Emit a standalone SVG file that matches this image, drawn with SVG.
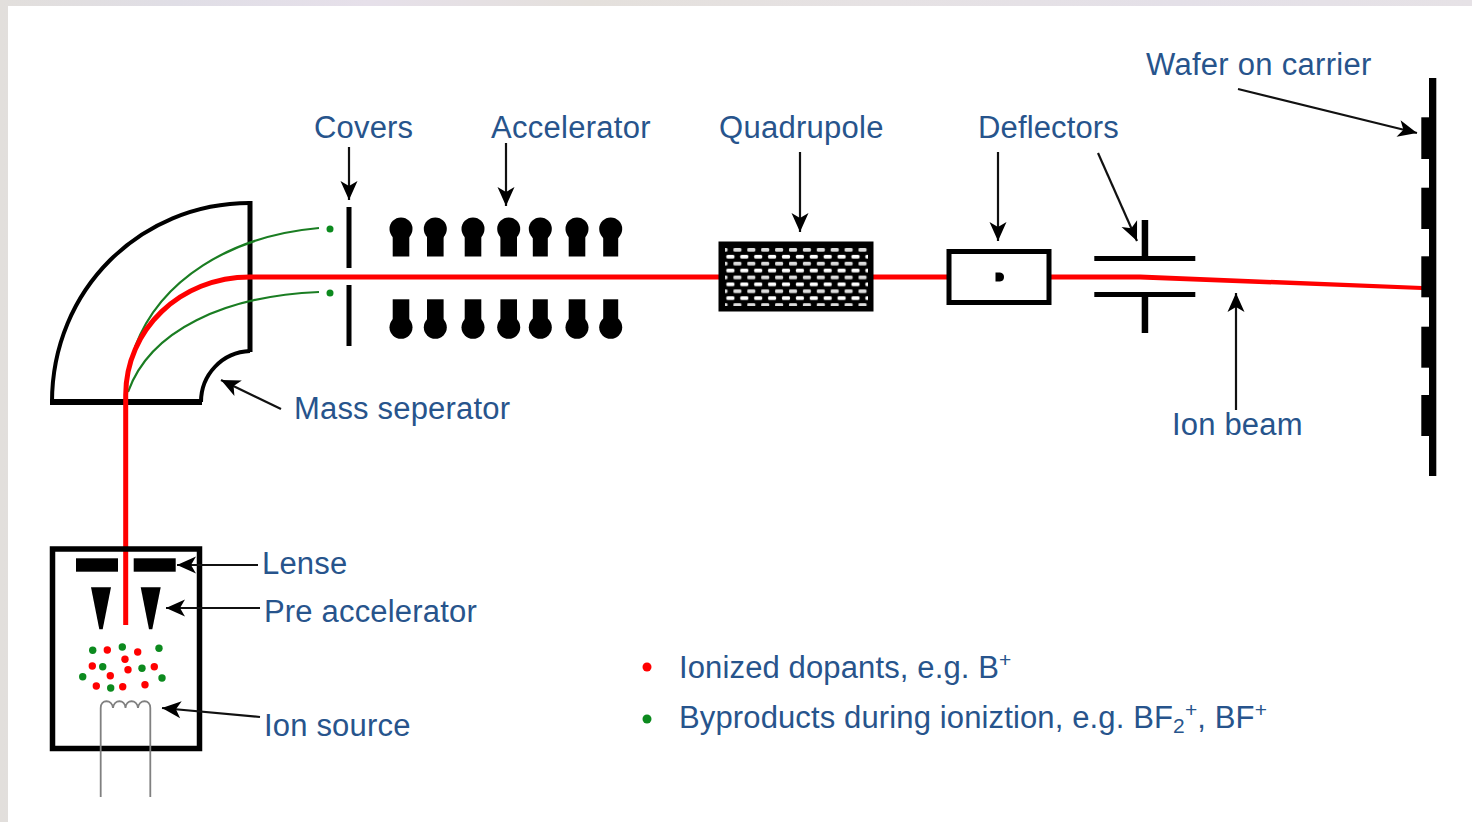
<svg xmlns="http://www.w3.org/2000/svg" width="1472" height="822" viewBox="0 0 1472 822">
<defs>
<linearGradient id="bg" x1="0" y1="0" x2="1" y2="0">
<stop offset="0" stop-color="#e2dfdc"/><stop offset="0.12" stop-color="#e0dee6"/><stop offset="0.25" stop-color="#e6e0ea"/><stop offset="0.4" stop-color="#e4e0dc"/><stop offset="0.6" stop-color="#e6e2e4"/><stop offset="0.8" stop-color="#e4e0e8"/><stop offset="1" stop-color="#e6e2e6"/>
</linearGradient>
<pattern id="holes" x="731.4" y="247" width="13.9" height="13.8" patternUnits="userSpaceOnUse">
<rect x="2" y="1" width="8" height="3.800" rx="1.300" fill="#dcdcdc"/>
<rect x="8.900" y="7.800" width="8" height="3.800" rx="1.300" fill="#fff"/>
<rect x="-5" y="7.800" width="8" height="3.800" rx="1.300" fill="#fff"/>
</pattern>
<marker id="arrow" markerUnits="userSpaceOnUse" markerWidth="22" markerHeight="22" refX="20" refY="11" orient="auto">
<path d="M20 11 L1 2.500 L6 11 L1 19.500 Z" fill="#000"/>
</marker>
<style>
text{font-family:"Liberation Sans",Arial,sans-serif;font-size:31px;letter-spacing:.18px;fill:#27548c}
.wide{letter-spacing:.28px}
.tight{letter-spacing:.13px}
.small{font-size:21px}
.conn{fill:none;stroke:#111;stroke-width:2.200;marker-end:url(#arrow)}
.red{fill:#ff0000}.green{fill:#0c8a1e}
.beam{fill:none;stroke:#ff0000;stroke-width:5}
.gbeam{fill:none;stroke:#1a7d22;stroke-width:2.200}
.blk{fill:#000}
.outline{fill:none;stroke:#000}
.wire{fill:none;stroke:#808080;stroke-width:1.800}
</style>
</defs>
<rect width="1472" height="822" fill="url(#bg)"/>
<rect x="8" y="6" width="1464" height="816" fill="#fff"/>

<g id="mass-separator">
<path class="outline" stroke-width="4" d="M52 402 C52 290 140 203 250 203"/>
<path class="outline" stroke-width="5" d="M250 201 V352"/>
<path class="outline" stroke-width="4" d="M250 351 C222 352 201 375 201 402"/>
<path class="outline" stroke-width="6" d="M50 402 H202"/>
</g>

<g id="beams">
<path class="gbeam" d="M135 347 C160 280 230 236 319 228"/>
<path class="gbeam" d="M128 392 C150 330 225 296 319 292"/>
<path class="beam" d="M125.700 625 V395 C125.700 330 180 277 250 277 H1140"/>
<path d="M1140 274.500 L1422 286 V290 L1140 279.500 Z" class="red"/>
</g>

<g id="covers">
<rect class="blk" x="346.500" y="207" width="5" height="61"/>
<rect class="blk" x="346.500" y="285" width="5" height="61"/>
<circle class="green" cx="330" cy="229" r="3.500"/>
<circle class="green" cx="330" cy="293" r="3.500"/>
</g>

<g id="accelerator" class="blk">
<circle cx="401" cy="229" r="11.500"/><rect x="392.700" y="229" width="16.600" height="27.500"/>
<circle cx="435.300" cy="229" r="11.500"/><rect x="427" y="229" width="16.600" height="27.500"/>
<circle cx="473" cy="229" r="11.500"/><rect x="464.700" y="229" width="16.600" height="27.500"/>
<circle cx="508.700" cy="229" r="11.500"/><rect x="500.400" y="229" width="16.600" height="27.500"/>
<circle cx="540.300" cy="229" r="11.500"/><rect x="532.800" y="229" width="15" height="27.500"/>
<circle cx="577" cy="229" r="11.500"/><rect x="568.700" y="229" width="16.600" height="27.500"/>
<circle cx="610.700" cy="229" r="11.500"/><rect x="603.200" y="229" width="15" height="27.500"/>
<circle cx="401" cy="327.300" r="11.500"/><rect x="392.700" y="299.300" width="16.600" height="28"/>
<circle cx="435.300" cy="327.300" r="11.500"/><rect x="427" y="299.300" width="16.600" height="28"/>
<circle cx="473" cy="327.300" r="11.500"/><rect x="464.700" y="299.300" width="16.600" height="28"/>
<circle cx="508.700" cy="327.300" r="11.500"/><rect x="500.400" y="299.300" width="16.600" height="28"/>
<circle cx="540.300" cy="327.300" r="11.500"/><rect x="532.800" y="299.300" width="15" height="28"/>
<circle cx="577" cy="327.300" r="11.500"/><rect x="568.700" y="299.300" width="16.600" height="28"/>
<circle cx="610.700" cy="327.300" r="11.500"/><rect x="603.200" y="299.300" width="15" height="28"/>
</g>

<g id="quadrupole">
<rect class="blk" x="718.500" y="241.500" width="155" height="70"/>
<rect x="725" y="247" width="143" height="59" fill="url(#holes)"/>
</g>

<g id="deflector-box">
<rect class="outline" stroke-width="5" x="949" y="251.500" width="100" height="51" style="fill:#fff"/>
<path class="blk" d="M995.500 272.500 H1000 Q1004 273 1004 277 Q1004 281 1000 281.500 H995.500 Z"/>
</g>

<g id="deflector-plates" class="blk">
<rect x="1094.300" y="256" width="101" height="5"/>
<rect x="1094.300" y="292" width="101" height="5"/>
<rect x="1141.700" y="220" width="6.500" height="38"/>
<rect x="1141.700" y="296" width="6.500" height="37"/>
</g>

<g id="wafer" class="blk">
<rect x="1429" y="78" width="7.300" height="398"/>
<rect x="1421.300" y="117.300" width="9" height="41.700"/>
<rect x="1421.300" y="187.700" width="9" height="41.300"/>
<rect x="1421.300" y="256.300" width="9" height="41"/>
<rect x="1421.300" y="326.700" width="9" height="41"/>
<rect x="1421.300" y="395" width="9" height="41"/>
</g>

<g id="ion-source">
<rect class="outline" stroke-width="5.500" x="52.500" y="549" width="147" height="199.500"/>
<rect class="blk" x="76" y="558.300" width="42" height="13.400"/>
<rect class="blk" x="133.700" y="558.300" width="42" height="13.400"/>
<path class="blk" d="M91 587.300 H111 L102.700 629.300 H99.300 Z"/>
<path class="blk" d="M140.700 587.300 H160.700 L152.300 629.300 H149 Z"/>
<g class="red">
<circle cx="107.300" cy="650" r="3.700"/><circle cx="137.700" cy="652" r="3.700"/><circle cx="125" cy="659.300" r="3.700"/><circle cx="92.300" cy="666" r="3.700"/><circle cx="154.300" cy="666.700" r="3.700"/><circle cx="128" cy="669.700" r="3.700"/><circle cx="110.300" cy="675.700" r="3.700"/><circle cx="96.300" cy="686" r="3.700"/><circle cx="122.700" cy="686.700" r="3.700"/><circle cx="145" cy="684.700" r="3.700"/>
</g>
<g class="green">
<circle cx="92.700" cy="650.300" r="3.700"/><circle cx="122.300" cy="647" r="3.700"/><circle cx="159" cy="648.300" r="3.700"/><circle cx="102.700" cy="666.700" r="3.700"/><circle cx="142" cy="668.300" r="3.700"/><circle cx="82.700" cy="676.700" r="3.700"/><circle cx="162" cy="678" r="3.700"/><circle cx="110.700" cy="688" r="3.700"/>
</g>
<path class="wire" d="M100.700 797 V708 C100.700 699 112 699 113 708 C114 699 125 699 125.500 708 C126 699 137 699 138 708 C139 699 150.300 699 150.300 708 V797"/>
</g>

<g id="connectors">
<path class="conn" d="M349 147 V200"/>
<path class="conn" d="M506 143 V206"/>
<path class="conn" d="M800 152 V232"/>
<path class="conn" d="M998 152 V241"/>
<path class="conn" d="M1098 153 L1137 241"/>
<path class="conn" d="M1238 89 L1417 133"/>
<path class="conn" d="M1236 410 V293"/>
<path class="conn" d="M281 409 L221 380"/>
<path class="conn" d="M258 565 H177"/>
<path class="conn" d="M260 608 H166"/>
<path class="conn" d="M260 717 L162 708"/>
</g>

<g id="labels">
<text x="314" y="138">Covers</text>
<text class="wide" x="491" y="138">Accelerator</text>
<text class="wide" x="719" y="138">Quadrupole</text>
<text class="tight" x="978" y="138">Deflectors</text>
<text class="wide" x="1146" y="75">Wafer on carrier</text>
<text x="294" y="419">Mass seperator</text>
<text x="1172" y="435">Ion beam</text>
<text x="262" y="574">Lense</text>
<text x="264" y="622">Pre accelerator</text>
<text x="264" y="736">Ion source</text>
</g>

<g id="legend">
<circle class="red" cx="647" cy="667" r="4.500"/>
<circle class="green" cx="647" cy="719" r="4.500"/>
<text class="tight" x="679" y="678">Ionized dopants, e.g. B<tspan class="small" dy="-11">+</tspan></text>
<text class="tight" x="679" y="728">Byproducts during ioniztion, e.g. BF<tspan class="small" dy="5">2</tspan><tspan class="small" dy="-16">+</tspan><tspan dy="11">, BF</tspan><tspan class="small" dy="-11">+</tspan></text>
</g>
</svg>
